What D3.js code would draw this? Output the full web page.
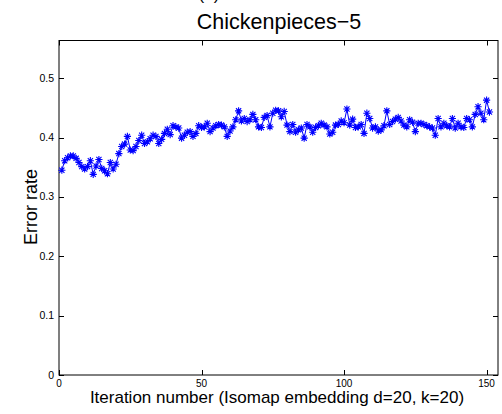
<!DOCTYPE html>
<html><head><meta charset="utf-8">
<script src="https://cdn.jsdelivr.net/npm/d3@7"></script>
<style>body{margin:0;background:#fff}svg{display:block}text{font-family:"Liberation Sans",Arial,sans-serif}</style>
</head><body><svg id="c" width="502" height="414"></svg>
<script>
const iterations = d3.range(1, 152);
const errorRate = [0.345,0.361,0.366,0.369,0.369,0.365,0.358,0.351,0.347,0.351,
0.361,0.338,0.352,0.363,0.348,0.344,0.339,0.358,0.347,0.355,
0.373,0.385,0.389,0.402,0.379,0.378,0.385,0.395,0.404,0.390,
0.393,0.398,0.404,0.402,0.390,0.397,0.407,0.414,0.405,0.420,
0.418,0.416,0.399,0.404,0.409,0.410,0.402,0.407,0.420,0.417,
0.418,0.424,0.410,0.416,0.420,0.422,0.421,0.418,0.402,0.411,
0.418,0.430,0.445,0.428,0.432,0.427,0.430,0.439,0.430,0.418,
0.417,0.434,0.437,0.418,0.441,0.446,0.445,0.435,0.444,0.421,
0.410,0.422,0.409,0.413,0.416,0.399,0.422,0.418,0.409,0.417,
0.420,0.424,0.421,0.418,0.406,0.409,0.421,0.422,0.428,0.425,
0.448,0.421,0.431,0.417,0.418,0.422,0.407,0.441,0.432,0.416,
0.418,0.411,0.413,0.420,0.445,0.422,0.427,0.431,0.434,0.428,
0.421,0.418,0.430,0.426,0.410,0.424,0.424,0.422,0.420,0.418,
0.416,0.404,0.432,0.418,0.424,0.420,0.418,0.432,0.416,0.424,
0.418,0.417,0.432,0.430,0.418,0.439,0.452,0.441,0.430,0.463,0.443];
const xTicks = [0, 50, 100, 150];
const yTicks = [0, 0.1, 0.2, 0.3, 0.4, 0.5];
const title = "Chickenpieces\u22125";
const xLabel = "Iteration number (Isomap embedding d=20, k=20)";
const yLabel = "Error rate";

const svg = d3.select("#c");
const L = 59, R = 498, T = 40.5, B = 375;
const x = d3.scaleLinear().domain([0, 154]).range([L, R]);
const y = d3.scaleLinear().domain([0, 0.5635]).range([B, T]);

// partial panel label at top (cut off in the reference as well)
svg.append("text").attr("x", 209).attr("y", 0).attr("text-anchor", "middle")
  .attr("font-size", 17).text("(a)");

// axes box
svg.append("rect").attr("x", L).attr("y", T).attr("width", R - L).attr("height", B - T)
  .attr("fill", "none").attr("stroke", "#000").attr("stroke-width", 1);

const tl = 5;
const g = svg.append("g");
xTicks.forEach(t => {
  const px = Math.round(x(t)) + 0.5;
  g.append("line").attr("x1", px).attr("x2", px).attr("y1", B).attr("y2", B - tl).attr("stroke", "#000");
  g.append("line").attr("x1", px).attr("x2", px).attr("y1", T).attr("y2", T + tl).attr("stroke", "#000");
  g.append("text").attr("x", x(t)).attr("y", B + 11.5).attr("text-anchor", "middle")
    .attr("font-size", 10).text(t);
});
yTicks.forEach(t => {
  const py = Math.round(y(t)) + 0.5;
  g.append("line").attr("x1", L).attr("x2", L + tl).attr("y1", py).attr("y2", py).attr("stroke", "#000");
  g.append("line").attr("x1", R).attr("x2", R - tl).attr("y1", py).attr("y2", py).attr("stroke", "#000");
  g.append("text").attr("x", L - 5).attr("y", y(t) + 3.5).attr("text-anchor", "end")
    .attr("font-size", 10.5).text(t === 0 ? "0" : d3.format(".1f")(t));
});

// line
const data = iterations.map((it, i) => [it, errorRate[i]]);
svg.append("path").datum(data)
  .attr("d", d3.line().x(d => x(d[0])).y(d => y(d[1])))
  .attr("fill", "none").attr("stroke", "#0000ff").attr("stroke-width", 1);

// asterisk markers
const s = 3.6, sd = s * 0.72;
const star = `M${-s},0L${s},0M0,${-s}L0,${s}M${-sd},${-sd}L${sd},${sd}M${-sd},${sd}L${sd},${-sd}`;
svg.append("g").selectAll("path").data(data).join("path")
  .attr("transform", d => `translate(${x(d[0])},${y(d[1])})`)
  .attr("d", star).attr("fill", "none").attr("stroke", "#0000ff").attr("stroke-width", 1.1);

// labels
svg.append("text").attr("x", 279).attr("y", 29).attr("text-anchor", "middle")
  .attr("font-size", 21.5).text(title);
svg.append("text").attr("x", 277).attr("y", 403).attr("text-anchor", "middle")
  .attr("font-size", 17).text(xLabel);
svg.append("text").attr("transform", "translate(37,207) rotate(-90)").attr("text-anchor", "middle")
  .attr("font-size", 18).text(yLabel);
</script></body></html>
